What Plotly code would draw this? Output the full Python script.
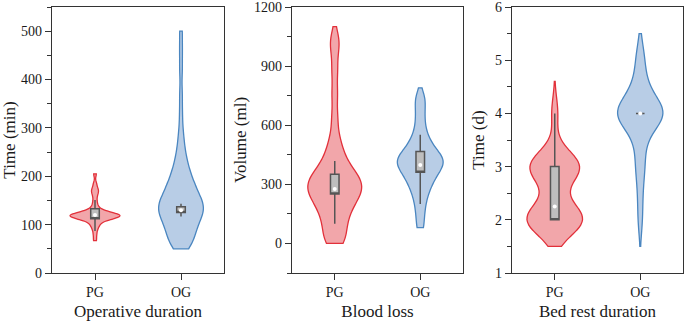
import plotly.graph_objects as go

groups = ["PG", "OG"]

# --- samples used to estimate the violin densities (read off the shapes) ---
op_pg = [68, 80, 90, 96, 100, 104, 107, 110, 112, 113, 114, 115, 116, 116, 117, 117, 118, 118, 118,
         119, 119, 120, 120, 121, 121, 122, 123, 124, 125, 127, 130, 134, 140, 148, 158, 166, 170,
         175, 185, 205]
op_og = [50, 54, 58, 62, 66, 70, 74, 78, 82, 86, 90, 94, 97, 100, 104, 107, 110, 113, 116, 119,
         121, 124, 126, 128, 130, 132, 134, 136, 138, 140, 142, 145, 147, 150, 152, 155, 158, 161,
         164, 168, 171, 175, 178, 182, 186, 190, 195, 200, 205, 212, 218, 226, 235, 245, 258, 275,
         295, 330, 370, 420, 460, 500]
bl_pg = [0, 15, 40, 70, 100, 125, 150, 170, 190, 205, 220, 235, 248, 260, 270, 280, 290, 300, 310,
         320, 332, 345, 360, 375, 395, 420, 450, 490, 540, 640, 760, 880, 990, 1045]
bl_og = [80, 140, 190, 230, 260, 285, 305, 322, 338, 352, 365, 377, 388, 398, 406, 414, 422, 431,
         440, 450, 462, 476, 492, 510, 535, 565, 610, 660, 710, 750]
br_pg = [2, 2, 2, 2, 2, 2, 2, 2, 2, 2.5, 3, 3, 3, 3, 3, 3, 3, 3, 4]
br_og = [2, 2.5, 3, 3, 3.5, 3.5, 4, 4, 4, 4, 4, 4, 4, 4, 4, 4, 4, 4, 4.5, 4.5, 4.5, 5, 5.1]

# violin spans (min, max) and bandwidths
op_span = [[67, 205], [50, 500]]
bl_span = [[0, 1100], [80, 790]]
br_span = [[1.5, 4.6], [1.5, 5.5]]
op_bw = [6, 20]
bl_bw = [55, 40]
br_bw = [0.3, 0.3]

# --- box statistics [PG, OG] ---
op_low, op_q1, op_q3, op_high, op_mid = [87, 117], [112, 125], [133, 137], [151, 143], [120, 130]
bl_low, bl_q1, bl_q3, bl_high, bl_mid = [100, 200], [251, 361], [351, 467], [418, 552], [276, 398]
br_low, br_q1, br_q3, br_high, br_mid = [2, 4], [2, 4], [3, 4], [4, 4], [2.25, 4]

y_titles = ["Time (min)", "Volume (ml)", "Time (d)"]
x_titles = ["Operative duration", "Blood loss", "Bed rest duration"]

FILL = ["#F2A6AA", "#B8CDE6"]
LINE = ["#E2303A", "#4A86C0"]
WID = [[0.58, 0.52], [0.63, 0.535], [0.65, 0.53]]

panels = [
    (op_pg, op_og, op_span, op_bw, (op_low, op_q1, op_q3, op_high, op_mid)),
    (bl_pg, bl_og, bl_span, bl_bw, (bl_low, bl_q1, bl_q3, bl_high, bl_mid)),
    (br_pg, br_og, br_span, br_bw, (br_low, br_q1, br_q3, br_high, br_mid)),
]

fig = go.Figure()
for p, (a, b, span, bw, stats) in enumerate(panels):
    xa = "x" if p == 0 else f"x{p+1}"
    ya = "y" if p == 0 else f"y{p+1}"
    for i, vals in enumerate([a, b]):
        fig.add_trace(go.Violin(
            y=vals, x0=groups[i], name=groups[i], xaxis=xa, yaxis=ya,
            points=False, box_visible=False, meanline_visible=False,
            spanmode="manual", span=span[i], bandwidth=bw[i],
            scalemode="width", width=WID[p][i],
            fillcolor=FILL[i], line=dict(color=LINE[i], width=1.3),
            opacity=1, showlegend=False, hoverinfo="skip"))
    low, q1, q3, high, mid = stats
    fig.add_trace(go.Box(
        x=groups, q1=q1, median=q1, q3=q3, lowerfence=low, upperfence=high,
        xaxis=xa, yaxis=ya, width=0.1, whiskerwidth=0,
        fillcolor="#BEBEBE", line=dict(color="#555555", width=1.5),
        boxpoints=False, showlegend=False, hoverinfo="skip"))
    fig.add_trace(go.Scatter(
        x=groups, y=mid, mode="markers", xaxis=xa, yaxis=ya,
        marker=dict(color="white", size=4), showlegend=False, hoverinfo="skip"))

W, H = 685, 323
ML, MR, MT, MB = 0, 2, 7, 50
pw = W - ML - MR
xdoms = [[52 / pw, 224 / pw], [292 / pw, 463 / pw], [512 / pw, 683 / pw]]
yranges = [[0, 550], [-150, 1200], [1, 6]]
ydt = [100, 300, 1]
ymin = [50, 150, 0.5]
ystand = [8, 3, 6]

family = "Liberation Serif, Times New Roman, serif"
layout = dict(
    width=W, height=H, margin=dict(l=ML, r=MR, t=MT, b=MB),
    paper_bgcolor="white", plot_bgcolor="white",
    violinmode="overlay", boxmode="overlay",
    font=dict(family=family, size=14, color="#1a1a1a"),
)
for p in range(3):
    sx = "xaxis" if p == 0 else f"xaxis{p+1}"
    sy = "yaxis" if p == 0 else f"yaxis{p+1}"
    ya = "y" if p == 0 else f"y{p+1}"
    xa = "x" if p == 0 else f"x{p+1}"
    layout[sx] = dict(
        domain=xdoms[p], anchor=ya, type="category", range=[-0.5, 1.5],
        showline=True, mirror=True, linecolor="#333333", linewidth=1.2,
        ticks="outside", ticklen=6, tickcolor="#333333", showgrid=False, zeroline=False,
        tickfont=dict(size=14), automargin=False,
        title=dict(text=x_titles[p], font=dict(size=17), standoff=6))
    layout[sy] = dict(
        domain=[0, 1], anchor=xa, range=yranges[p], dtick=ydt[p], tick0=0,
        showline=True, mirror=True, linecolor="#333333", linewidth=1.2,
        ticks="outside", ticklen=6, tickcolor="#333333", showgrid=False, zeroline=False,
        ticklabeloverflow="allow",
        minor=dict(ticks="outside", ticklen=4, dtick=ymin[p], tick0=0, tickcolor="#333333",
                   showgrid=False),
        tickfont=dict(size=14), automargin=False,
        title=dict(text=y_titles[p], font=dict(size=17), standoff=ystand[p]))
fig.update_layout(**layout)
fig.write_html(
    "out.html",
    config={"displayModeBar": False},
    post_script="document.body.style.margin='0';document.body.style.overflow='hidden';")
